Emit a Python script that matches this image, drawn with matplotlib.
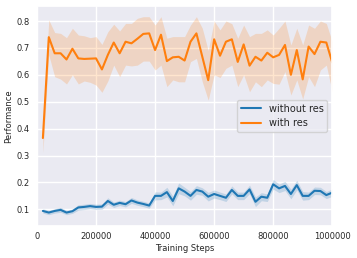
import numpy as np
import matplotlib
matplotlib.use("Agg")
import matplotlib.pyplot as plt
import seaborn as sns

steps = np.arange(1, 51) * 20000

without_res = [0.094, 0.088, 0.094, 0.098, 0.088, 0.093, 0.107, 0.109, 0.112, 0.109,
               0.110, 0.131, 0.117, 0.124, 0.119, 0.133, 0.125, 0.120, 0.114, 0.150,
               0.150, 0.164, 0.131, 0.178, 0.166, 0.150, 0.172, 0.166, 0.147, 0.157,
               0.150, 0.143, 0.172, 0.150, 0.150, 0.174, 0.128, 0.147, 0.143, 0.193,
               0.178, 0.187, 0.157, 0.190, 0.150, 0.150, 0.169, 0.168, 0.153, 0.162]
without_err = [0.008, 0.008, 0.008, 0.009, 0.008, 0.008, 0.010, 0.010, 0.010, 0.010,
               0.010, 0.012, 0.010, 0.010, 0.010, 0.011, 0.010, 0.010, 0.010, 0.015,
               0.014, 0.018, 0.018, 0.020, 0.016, 0.016, 0.016, 0.014, 0.016, 0.015,
               0.014, 0.014, 0.015, 0.014, 0.014, 0.016, 0.018, 0.015, 0.014, 0.018,
               0.016, 0.017, 0.018, 0.018, 0.016, 0.014, 0.014, 0.014, 0.013, 0.014]

with_res = [0.365, 0.740, 0.680, 0.680, 0.657, 0.697, 0.661, 0.659, 0.660, 0.661,
            0.620, 0.674, 0.720, 0.680, 0.723, 0.717, 0.734, 0.752, 0.754, 0.692,
            0.749, 0.651, 0.665, 0.667, 0.653, 0.723, 0.754, 0.667, 0.580, 0.732,
            0.671, 0.723, 0.732, 0.648, 0.713, 0.634, 0.667, 0.653, 0.682, 0.665,
            0.674, 0.711, 0.600, 0.692, 0.583, 0.705, 0.677, 0.723, 0.720, 0.646]
with_lower = [0.310, 0.674, 0.593, 0.584, 0.566, 0.600, 0.566, 0.577, 0.572, 0.562,
              0.535, 0.577, 0.636, 0.593, 0.636, 0.633, 0.636, 0.651, 0.651, 0.618,
              0.636, 0.556, 0.581, 0.574, 0.574, 0.649, 0.661, 0.574, 0.506, 0.600,
              0.590, 0.624, 0.636, 0.556, 0.600, 0.537, 0.574, 0.556, 0.581, 0.568,
              0.565, 0.612, 0.525, 0.581, 0.510, 0.593, 0.556, 0.618, 0.636, 0.537]
with_upper = [0.420, 0.804, 0.757, 0.754, 0.738, 0.773, 0.748, 0.745, 0.738, 0.742,
              0.713, 0.760, 0.788, 0.763, 0.791, 0.791, 0.810, 0.816, 0.816, 0.785,
              0.816, 0.736, 0.742, 0.742, 0.742, 0.785, 0.816, 0.773, 0.690, 0.800,
              0.767, 0.800, 0.790, 0.736, 0.785, 0.742, 0.754, 0.754, 0.767, 0.748,
              0.773, 0.800, 0.711, 0.773, 0.711, 0.785, 0.773, 0.800, 0.791, 0.723]

x_ticks = [0, 200000, 400000, 600000, 800000, 1000000]
y_ticks = [0.1, 0.2, 0.3, 0.4, 0.5, 0.6, 0.7, 0.8]

sns.set_theme(style="darkgrid")
plt.rcParams['font.family'] = ['DejaVu Sans']

fig = plt.figure(figsize=(3.57, 2.58), dpi=100)
ax = fig.add_axes([0.1036, 0.124, 0.827, 0.853])

blue = "#1f77b4"
orange = "#ff7f0e"
wo = np.array(without_res)
we = np.array(without_err)
ax.fill_between(steps, wo - we, wo + we, color=blue, alpha=0.2, linewidth=0)
ax.plot(steps, wo, color=blue, lw=1.5, label="without res")
ax.fill_between(steps, with_lower, with_upper, color=orange, alpha=0.2, linewidth=0)
ax.plot(steps, with_res, color=orange, lw=1.5, label="with res")

ax.set_xlim(0, 1000000)
ax.set_ylim(0.038, 0.856)
ax.set_xticks(x_ticks)
ax.set_xticklabels([str(v) for v in x_ticks])
ax.set_yticks(y_ticks)
ax.set_yticklabels([f"{v:.1f}" for v in y_ticks])
ax.tick_params(axis="both", length=0)
ax.tick_params(axis="x", labelsize=6, pad=4.3)
ax.tick_params(axis="y", labelsize=6, pad=5)
ax.set_xlabel("Training Steps", fontsize=6)
ax.set_ylabel("Performance", fontsize=6)
ax.xaxis.set_label_coords(0.5, -0.08)
ax.yaxis.set_label_coords(-0.081, 0.5)
ax.legend(loc="center right", fontsize=7, handlelength=2)

fig.savefig("out.png", dpi=100)
